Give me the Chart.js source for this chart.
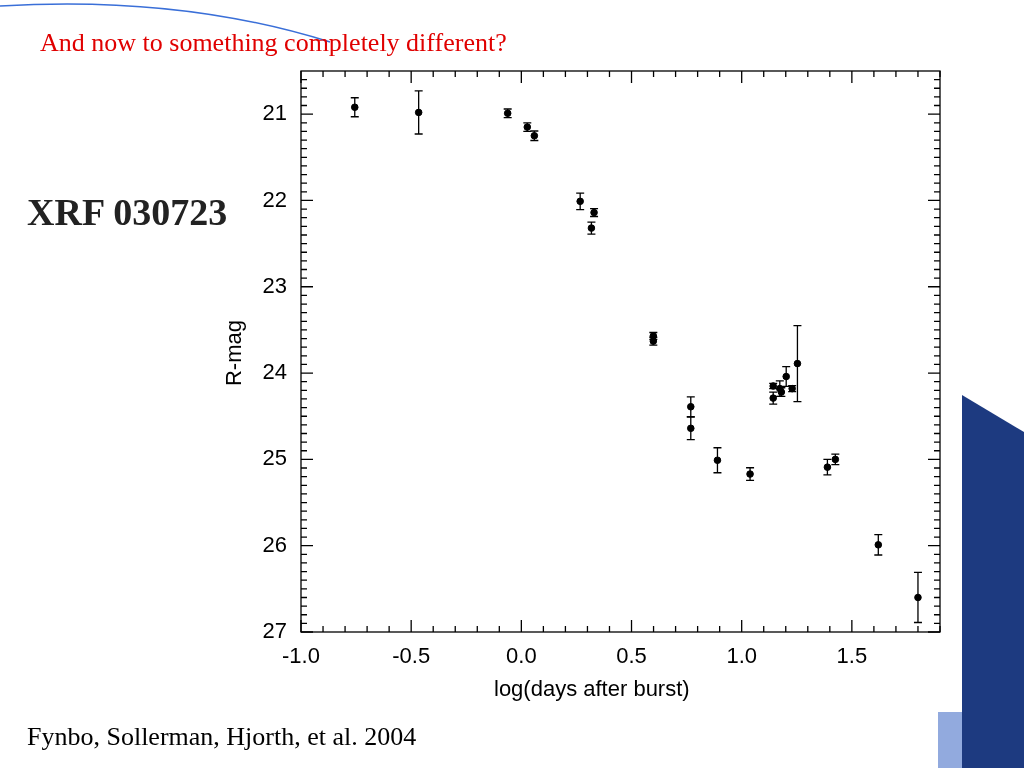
<!DOCTYPE html>
<html>
<head>
<meta charset="utf-8">
<script src="https://cdn.jsdelivr.net/npm/chart.js@4.4.0/dist/chart.umd.min.js"></script>
<style>
  body { margin: 0; width: 1024px; height: 768px; background: #fff; position: relative; overflow: hidden; }
  #wrap { position: absolute; left: 0; top: 0; width: 1024px; height: 768px; }
  .txt { position: absolute; font-family: "Liberation Serif", "Times New Roman", serif; white-space: nowrap; }
  .ax { position: absolute; font-family: "Liberation Sans", Arial, sans-serif; font-size: 22px; color: #000; }
  svg { position: absolute; left: 0; top: 0; }
</style>
</head>
<body>
<svg width="1024" height="768">
  <path d="M0,6 Q180,-5 330,42" stroke="#3a6fd8" stroke-width="1.5" fill="none"/>
  <polygon points="962,395 1024,432 1024,768 962,768" fill="#1d3a80"/>
  <polygon points="938,712 962,712 962,768 938,768" fill="#4a72c8" opacity="0.6"/>
</svg>
<div id="wrap"><canvas id="c" width="1024" height="768"></canvas></div>
<div class="txt" style="left:40px;top:28px;font-size:26px;color:#e00000;">And now to something completely different?</div>
<div class="txt" style="left:27px;top:190px;font-size:38px;font-weight:bold;color:#222;">XRF 030723</div>
<div class="txt" style="left:27px;top:722px;font-size:26px;color:#000;">Fynbo, Sollerman, Hjorth, et al. 2004</div>
<div class="ax" style="left:494px;top:676px;">log(days after burst)</div>
<div class="ax" style="left:196px;top:340px;transform:rotate(-90deg);transform-origin:center;width:76px;text-align:center;">R-mag</div>
<script>
// ================================
// DATA
// ================================
const logDays = [-0.756, -0.466, -0.062, 0.027, 0.059, 0.267, 0.33, 0.318,
                 0.599, 0.599, 0.769, 0.769, 0.89, 1.038,
                 1.143, 1.143, 1.173, 1.18, 1.202, 1.229, 1.253,
                 1.389, 1.425, 1.62, 1.8];
const rMag    = [20.92, 20.98, 20.99, 21.15, 21.25, 22.01, 22.14, 22.32,
                 23.57, 23.63, 24.39, 24.64, 25.01, 25.17,
                 24.15, 24.29, 24.18, 24.22, 24.04, 24.18, 23.89,
                 25.09, 25.0, 25.99, 26.6];
const rErr    = [0.11, 0.25, 0.05, 0.05, 0.055, 0.096, 0.046, 0.07,
                 0.04, 0.045, 0.115, 0.13, 0.145, 0.073,
                 0.03, 0.07, 0.09, 0.05, 0.115, 0.035, 0.44,
                 0.09, 0.06, 0.118, 0.29];
const xTicks = [-1.0, -0.5, 0.0, 0.5, 1.0, 1.5];
const yTicks = [21, 22, 23, 24, 25, 26, 27];

// ================================
// ERROR BARS + IDL-STYLE TICKS
// ================================
const errorBars = {
  id: "errorBars",
  afterDatasetsDraw(chart) {
    const ctx = chart.ctx, xs = chart.scales.x, ys = chart.scales.y;
    ctx.save();
    ctx.strokeStyle = "#000";
    ctx.lineWidth = 1.3;
    logDays.forEach((lx, i) => {
      const px = xs.getPixelForValue(lx);
      const top = ys.getPixelForValue(rMag[i] - rErr[i]);
      const bot = ys.getPixelForValue(rMag[i] + rErr[i]);
      ctx.beginPath();
      ctx.moveTo(px, top); ctx.lineTo(px, bot);
      ctx.moveTo(px - 4, top); ctx.lineTo(px + 4, top);
      ctx.moveTo(px - 4, bot); ctx.lineTo(px + 4, bot);
      ctx.stroke();
    });
    ctx.restore();
  },
  afterDraw(chart) {
    const ctx = chart.ctx, xs = chart.scales.x, ys = chart.scales.y;
    const a = chart.chartArea;
    ctx.save();
    ctx.strokeStyle = "#000";
    ctx.lineWidth = 1.3;
    ctx.strokeRect(a.left, a.top, a.right - a.left, a.bottom - a.top);
    ctx.beginPath();
    for (let k = -10; k <= 19; k++) {
      const v = k / 10, px = xs.getPixelForValue(v);
      const len = (k % 5 === 0) ? 12 : 6;
      ctx.moveTo(px, a.bottom); ctx.lineTo(px, a.bottom - len);
      ctx.moveTo(px, a.top); ctx.lineTo(px, a.top + len);
    }
    for (let k = 206; k <= 270; k++) {
      const v = k / 10, py = ys.getPixelForValue(v);
      const len = (k % 10 === 0) ? 12 : 6;
      ctx.moveTo(a.left, py); ctx.lineTo(a.left + len, py);
      ctx.moveTo(a.right, py); ctx.lineTo(a.right - len, py);
    }
    ctx.stroke();
    ctx.restore();
  }
};

new Chart(document.getElementById("c").getContext("2d"), {
  type: "scatter",
  data: {
    datasets: [{
      data: logDays.map((x, i) => ({ x: x, y: rMag[i] })),
      backgroundColor: "#000",
      borderColor: "#000",
      pointRadius: 3.3
    }]
  },
  options: {
    responsive: false,
    animation: false,
    layout: { padding: { top: 71, right: 84, left: 0, bottom: 0 } },
    plugins: { legend: { display: false }, tooltip: { enabled: false } },
    scales: {
      x: {
        type: "linear", min: -1.0, max: 1.9,
        afterBuildTicks: s => { s.ticks = xTicks.map(v => ({ value: v })); },
        afterFit: s => { s.height = 136; },
        grid: { display: false, drawTicks: false },
        border: { display: false },
        ticks: { color: "#000", padding: 12, font: { family: "Liberation Sans", size: 22 },
                 callback: v => v.toFixed(1) }
      },
      y: {
        type: "linear", reverse: true, min: 20.5, max: 27.0,
        afterBuildTicks: s => { s.ticks = yTicks.map(v => ({ value: v })); },
        afterFit: s => { s.width = 301; },
        grid: { display: false, drawTicks: false },
        border: { display: false },
        ticks: { color: "#000", padding: 14, font: { family: "Liberation Sans", size: 22 } }
      }
    }
  },
  plugins: [errorBars]
});
</script>
</body>
</html>
